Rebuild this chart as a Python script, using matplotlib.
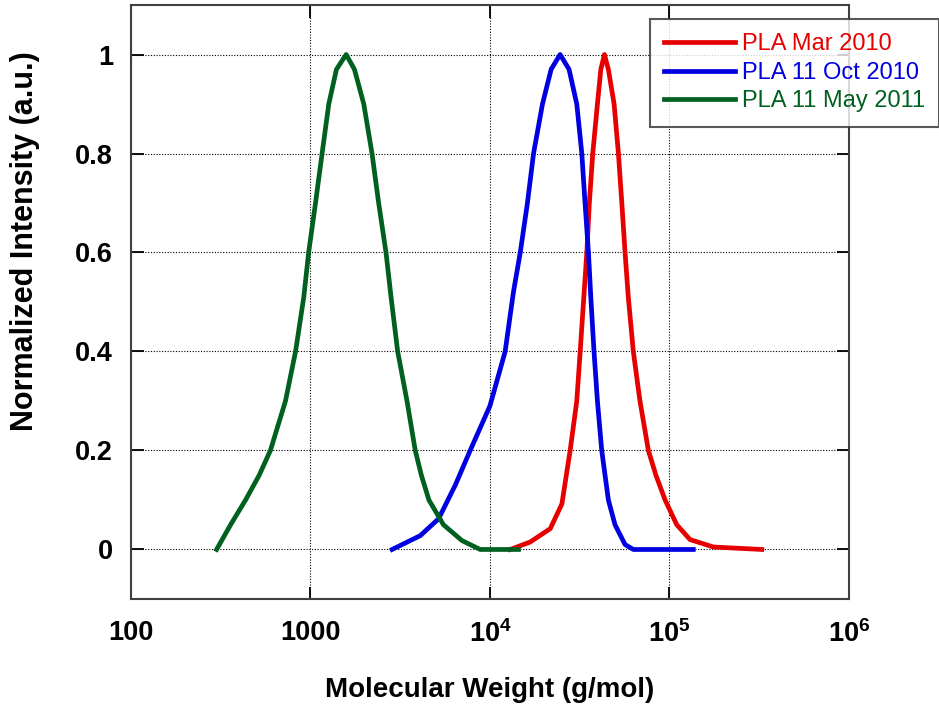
import matplotlib.pyplot as plt
from matplotlib.ticker import FixedLocator, NullLocator

plt.rcParams['font.family'] = ['Liberation Sans', 'DejaVu Sans']
plt.rcParams['mathtext.fontset'] = 'custom'
plt.rcParams['mathtext.rm'] = 'Liberation Sans:bold'
plt.rcParams['mathtext.bf'] = 'Liberation Sans:bold'

# PLA Mar 2010 (red)
mw_mar2010 = [12970, 16750, 21680, 25180, 27990, 30480, 31840, 33500, 34670,
              35810, 37410, 39720, 41500, 43450, 45710, 49200, 52000, 54320,
              56620, 59020, 62950, 68550, 76380, 84140, 94620, 109900,
              130300, 175800, 327300]
int_mar2010 = [0.0, 0.015, 0.042, 0.092, 0.20, 0.30, 0.40, 0.52, 0.60,
               0.70, 0.80, 0.90, 0.97, 1.0, 0.97, 0.90, 0.80, 0.70,
               0.60, 0.51, 0.40, 0.30, 0.20, 0.15, 0.10, 0.05,
               0.02, 0.005, 0.0]

# PLA 11 Oct 2010 (blue)
mw_oct2010 = [2851, 4093, 5176, 6412, 7762, 10000, 12160, 13520, 14760,
              16180, 17500, 19630, 21930, 24600, 27600, 30480, 32510, 33880,
              35400, 36480, 38020, 39720, 41980, 45710, 49770, 56620,
              62950, 135800]
int_oct2010 = [0.0, 0.028, 0.062, 0.13, 0.20, 0.29, 0.40, 0.52, 0.60,
               0.70, 0.80, 0.90, 0.97, 1.0, 0.97, 0.90, 0.80, 0.70,
               0.60, 0.51, 0.40, 0.30, 0.20, 0.10, 0.05, 0.01,
               0.0, 0.0]

# PLA 11 May 2011 (green)
mw_may2011 = [300, 359, 435, 518, 598, 726, 826, 918, 977, 1067, 1161, 1265,
              1396, 1581, 1758, 1982, 2203, 2399, 2636, 2812, 3062, 3451,
              3837, 4150, 4571, 5508, 6982, 8831, 14420]
int_may2011 = [0.0, 0.05, 0.10, 0.15, 0.20, 0.30, 0.40, 0.51, 0.60, 0.70,
               0.80, 0.90, 0.97, 1.0, 0.97, 0.90, 0.80, 0.70, 0.60, 0.51,
               0.40, 0.30, 0.20, 0.15, 0.10, 0.05, 0.018, 0.0, 0.0]

x_ticks = [100, 1000, 1e4, 1e5, 1e6]
x_labels = ['100', '1000', r'$\mathbf{10^{4}}$', r'$\mathbf{10^{5}}$',
            r'$\mathbf{10^{6}}$']
y_ticks = [0, 0.2, 0.4, 0.6, 0.8, 1]
y_labels = ['0', '0.2', '0.4', '0.6', '0.8', '1']

fig = plt.figure(figsize=(9.39, 7.06), dpi=100)
ax = fig.add_axes([0.1395, 0.1516, 0.7645, 0.8413])

ax.plot(mw_mar2010, int_mar2010, color='#e60000', lw=3.4, label='PLA Mar 2010')
ax.plot(mw_oct2010, int_oct2010, color='#0000e0', lw=3.4, label='PLA 11 Oct 2010')
ax.plot(mw_may2011, int_may2011, color='#006020', lw=3.4, label='PLA 11 May 2011')

ax.set_xscale('log')
ax.set_xlim(100, 1e6)
ax.set_ylim(-0.1, 1.1)
ax.xaxis.set_major_locator(FixedLocator(x_ticks))
ax.xaxis.set_minor_locator(NullLocator())
ax.set_xticklabels(x_labels)
ax.set_yticks(y_ticks)
ax.set_yticklabels(y_labels)

ax.tick_params(which='major', direction='in', length=9, width=1.3,
               top=True, right=True, labelsize=19.5, pad=13)
ax.tick_params(axis='x', pad=15)
for lab in ax.get_xticklabels() + ax.get_yticklabels():
    lab.set_fontweight('bold')

ax.grid(True, color='black', linestyle=(0, (1, 1.5)), linewidth=0.8)
for s in ax.spines.values():
    s.set_color('#404040')
    s.set_linewidth(1.5)

ax.set_xlabel('Molecular Weight (g/mol)', fontsize=20, fontweight='bold', labelpad=21)
ax.set_ylabel('Normalized Intensity (a.u.)', fontsize=22, fontweight='bold')
ax.yaxis.set_label_coords(-0.127, 0.602)

leg = ax.legend(loc='upper right', bbox_to_anchor=(1.0, 0.973),
                bbox_transform=fig.transFigure, fontsize=17, frameon=True,
                fancybox=False, handlelength=3.0, handletextpad=0.3,
                labelspacing=0.28, borderpad=0.6, borderaxespad=0)
leg.get_frame().set_edgecolor('#303030')
leg.get_frame().set_linewidth(1.5)
for txt, line in zip(leg.get_texts(), leg.get_lines()):
    txt.set_color(line.get_color())

fig.savefig('out.png', dpi=100)
